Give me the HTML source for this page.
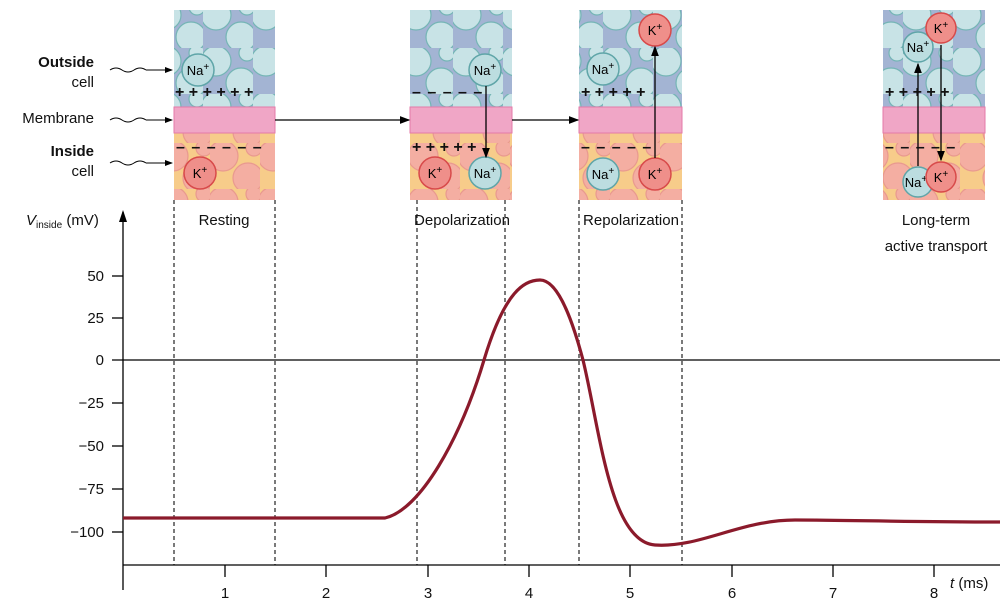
<!DOCTYPE html>
<html><head><meta charset="utf-8"><style>
body{margin:0;background:#fff}
svg{display:block;font-family:"Liberation Sans",sans-serif}
</style></head><body>
<svg width="1000" height="604" viewBox="0 0 1000 604">
<defs>
<pattern id="pt" width="50" height="46" patternUnits="userSpaceOnUse" x="3" y="2">
<rect width="50" height="46" fill="#a3b4d3"/>
<circle cx="13" cy="13" r="15" fill="#c8e3e6" stroke="#74b5b5" stroke-width="1.2"/>
<circle cx="38" cy="35" r="15" fill="#c8e3e6" stroke="#74b5b5" stroke-width="1.2"/>
<circle cx="44" cy="5" r="8" fill="#c8e3e6" stroke="#74b5b5" stroke-width="1.2"/>
</pattern>
<pattern id="pb" width="50" height="46" patternUnits="userSpaceOnUse" x="10" y="5">
<rect width="50" height="46" fill="#f7cc8a"/>
<circle cx="13" cy="13" r="15" fill="#f4aea2" stroke="#e9998f" stroke-width="1.2"/>
<circle cx="38" cy="35" r="15" fill="#f4aea2" stroke="#e9998f" stroke-width="1.2"/>
<circle cx="44" cy="5" r="8" fill="#f4aea2" stroke="#e9998f" stroke-width="1.2"/>
</pattern>
<marker id="ar" markerWidth="8" markerHeight="8" refX="7" refY="4" orient="auto"><path d="M0,1 L8,4 L0,7z" fill="#000"/></marker>
</defs>

<g>
<rect x="174" y="10" width="101" height="97" fill="url(#pt)"/>
<rect x="174" y="133" width="101" height="67" fill="url(#pb)"/>
<rect x="174" y="107" width="101" height="26" fill="#f0a6c6" stroke="#e37aa8"/>
<rect x="410" y="10" width="102" height="97" fill="url(#pt)"/>
<rect x="410" y="133" width="102" height="67" fill="url(#pb)"/>
<rect x="410" y="107" width="102" height="26" fill="#f0a6c6" stroke="#e37aa8"/>
<rect x="579" y="10" width="103" height="97" fill="url(#pt)"/>
<rect x="579" y="133" width="103" height="67" fill="url(#pb)"/>
<rect x="579" y="107" width="103" height="26" fill="#f0a6c6" stroke="#e37aa8"/>
<rect x="883" y="10" width="102" height="97" fill="url(#pt)"/>
<rect x="883" y="133" width="102" height="67" fill="url(#pb)"/>
<rect x="883" y="107" width="102" height="26" fill="#f0a6c6" stroke="#e37aa8"/>
</g>

<g font-size="13" text-anchor="middle">
<circle cx="198" cy="70" r="16" fill="#bcdde0" stroke="#5fa5a8" stroke-width="1.5"/><text x="198" y="75">Na<tspan dy="-5" font-size="10">+</tspan></text>
<circle cx="200" cy="173" r="16" fill="#ef8f8a" stroke="#d84a4a" stroke-width="1.5"/><text x="200" y="178">K<tspan dy="-5" font-size="10">+</tspan></text>
<circle cx="485" cy="70" r="16" fill="#bcdde0" stroke="#5fa5a8" stroke-width="1.5"/><text x="485" y="75">Na<tspan dy="-5" font-size="10">+</tspan></text>
<circle cx="485" cy="173" r="16" fill="#bcdde0" stroke="#5fa5a8" stroke-width="1.5"/><text x="485" y="178">Na<tspan dy="-5" font-size="10">+</tspan></text>
<circle cx="435" cy="173" r="16" fill="#ef8f8a" stroke="#d84a4a" stroke-width="1.5"/><text x="435" y="178">K<tspan dy="-5" font-size="10">+</tspan></text>
<circle cx="603" cy="69" r="16" fill="#bcdde0" stroke="#5fa5a8" stroke-width="1.5"/><text x="603" y="74">Na<tspan dy="-5" font-size="10">+</tspan></text>
<circle cx="603" cy="174" r="16" fill="#bcdde0" stroke="#5fa5a8" stroke-width="1.5"/><text x="603" y="179">Na<tspan dy="-5" font-size="10">+</tspan></text>
<circle cx="655" cy="30" r="16" fill="#ef8f8a" stroke="#d84a4a" stroke-width="1.5"/><text x="655" y="35">K<tspan dy="-5" font-size="10">+</tspan></text>
<circle cx="655" cy="174" r="16" fill="#ef8f8a" stroke="#d84a4a" stroke-width="1.5"/><text x="655" y="179">K<tspan dy="-5" font-size="10">+</tspan></text>
<circle cx="918" cy="47" r="15" fill="#bcdde0" stroke="#5fa5a8" stroke-width="1.5"/><text x="918" y="52">Na<tspan dy="-5" font-size="10">+</tspan></text>
<circle cx="918" cy="182" r="15" fill="#bcdde0" stroke="#5fa5a8" stroke-width="1.5"/><text x="916" y="187">Na<tspan dy="-5" font-size="10">+</tspan></text>
<circle cx="941" cy="28" r="15" fill="#ef8f8a" stroke="#d84a4a" stroke-width="1.5"/><text x="941" y="33">K<tspan dy="-5" font-size="10">+</tspan></text>
<circle cx="941" cy="177" r="15" fill="#ef8f8a" stroke="#d84a4a" stroke-width="1.5"/><text x="941" y="182">K<tspan dy="-5" font-size="10">+</tspan></text>
</g>
<g stroke="#000" stroke-width="1.3" fill="none" marker-end="url(#ar)">
<line x1="486" y1="86" x2="486" y2="157"/>
<line x1="655" y1="158" x2="655" y2="47"/>
<line x1="918" y1="166" x2="918" y2="64"/>
<line x1="941" y1="45" x2="941" y2="160"/>
<line x1="275" y1="120" x2="409" y2="120"/>
<line x1="512" y1="120" x2="578" y2="120"/>
</g>
<g font-size="16" font-weight="bold" fill="#111">
<text x="175" y="97">+ + + + + +</text>
<text x="412" y="97" letter-spacing="1">– – – –  –</text>
<text x="412" y="152">+ + + +   +</text>
<text x="176" y="152" letter-spacing="1">– – – – – –</text>
<text x="581" y="97">+ + + +   +</text>
<text x="581" y="152" letter-spacing="1">– – – –   –</text>
<text x="885" y="97">+ +   +  +  +</text>
<text x="885" y="152" letter-spacing="1">– –   –  – –</text>
</g>

<g font-size="15" fill="#111" text-anchor="end">
<text x="94" y="67" font-weight="bold">Outside</text>
<text x="94" y="87">cell</text>
<text x="94" y="123">Membrane</text>
<text x="94" y="156" font-weight="bold">Inside</text>
<text x="94" y="176">cell</text>
</g>
<g stroke="#000" stroke-width="1" fill="none">
<path d="M110,70 q6,-4 12,0 t12,0 t12,0" /><path d="M110,120 q6,-4 12,0 t12,0 t12,0"/><path d="M110,163 q6,-4 12,0 t12,0 t12,0"/>
</g>
<g stroke="#000"><line x1="146" y1="70" x2="172" y2="70" marker-end="url(#ar)"/><line x1="146" y1="120" x2="172" y2="120" marker-end="url(#ar)"/><line x1="146" y1="163" x2="172" y2="163" marker-end="url(#ar)"/></g>

<g font-size="15" fill="#111" text-anchor="middle">
<text x="224" y="225">Resting</text>
<text x="462" y="225">Depolarization</text>
<text x="631" y="225">Repolarization</text>
<text x="936" y="225">Long-term</text>
<text x="936" y="251">active transport</text>
</g>

<g stroke="#222" stroke-width="1.2" stroke-dasharray="4,3">
<line x1="174" y1="200" x2="174" y2="565"/><line x1="275" y1="200" x2="275" y2="565"/>
<line x1="417" y1="200" x2="417" y2="565"/><line x1="505" y1="200" x2="505" y2="565"/>
<line x1="579" y1="200" x2="579" y2="565"/><line x1="682" y1="200" x2="682" y2="565"/>
</g>

<g stroke="#000" stroke-width="1.3">
<line x1="123" y1="212" x2="123" y2="590"/>
<line x1="123" y1="565" x2="1000" y2="565"/>
<line x1="112" y1="360" x2="1000" y2="360"/>
<line x1="112" y1="276" x2="123" y2="276"/><line x1="112" y1="318" x2="123" y2="318"/>
<line x1="112" y1="403" x2="123" y2="403"/><line x1="112" y1="446" x2="123" y2="446"/>
<line x1="112" y1="489" x2="123" y2="489"/><line x1="112" y1="532" x2="123" y2="532"/>
<line x1="225" y1="565" x2="225" y2="577"/><line x1="326" y1="565" x2="326" y2="577"/>
<line x1="428" y1="565" x2="428" y2="577"/><line x1="529" y1="565" x2="529" y2="577"/>
<line x1="630" y1="565" x2="630" y2="577"/><line x1="732" y1="565" x2="732" y2="577"/>
<line x1="833" y1="565" x2="833" y2="577"/><line x1="934" y1="565" x2="934" y2="577"/>
</g>
<path d="M119,222 L123,210 L127,222z" fill="#000"/>
<g font-size="15" fill="#111" text-anchor="end">
<text x="104" y="281">50</text><text x="104" y="323">25</text><text x="104" y="365">0</text>
<text x="104" y="408">−25</text><text x="104" y="451">−50</text><text x="104" y="494">−75</text><text x="104" y="537">−100</text>
</g>
<g font-size="15" fill="#111" text-anchor="middle">
<text x="225" y="598">1</text><text x="326" y="598">2</text><text x="428" y="598">3</text><text x="529" y="598">4</text>
<text x="630" y="598">5</text><text x="732" y="598">6</text><text x="833" y="598">7</text><text x="934" y="598">8</text>
</g>
<text x="26" y="225" font-size="15" fill="#111"><tspan font-style="italic">V</tspan><tspan font-size="10" dy="3">inside</tspan><tspan dy="-3">  (mV)</tspan></text>
<text x="950" y="588" font-size="15" fill="#111"><tspan font-style="italic">t</tspan> (ms)</text>

<path d="M123,518 L385,518 C420,510 460,440 484,360 C505,290 525,280 540,280 C560,280 575,330 583,360 C600,430 610,542 655,545 C700,548 740,520 795,520 C850,520 900,522 1000,522" fill="none" stroke="#8b1a2b" stroke-width="3.2"/>
</svg>
</body></html>
